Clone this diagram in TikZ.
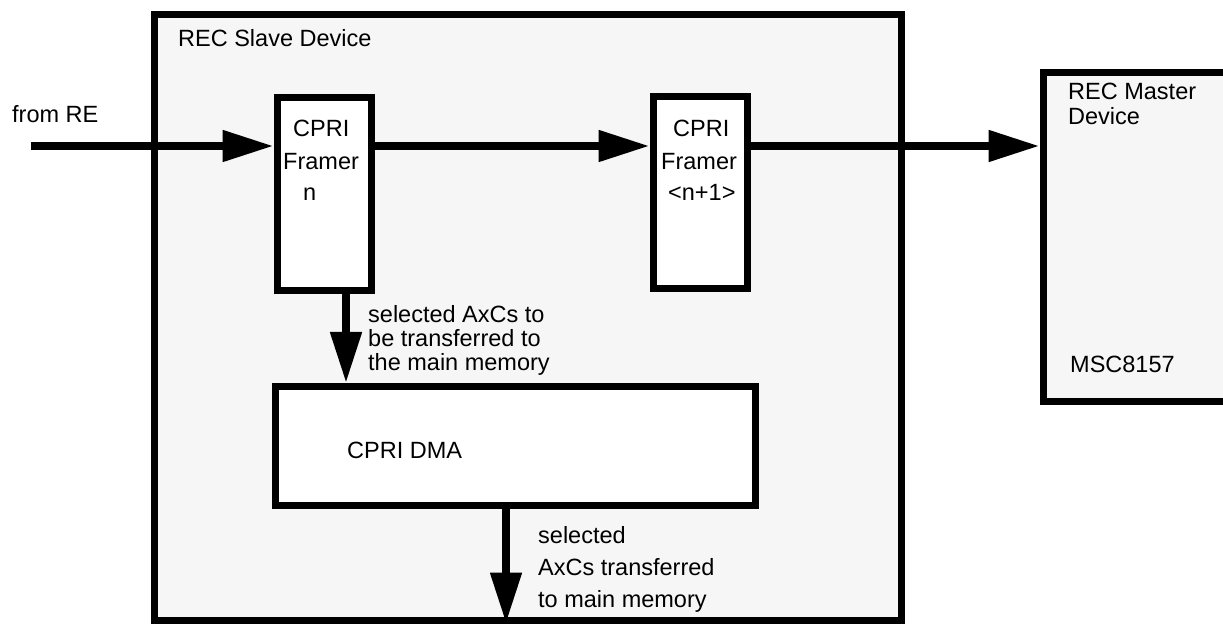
\documentclass[tikz,border=0pt]{standalone}
\usepackage{fontspec}
\setmainfont{Liberation Sans}
\usetikzlibrary{arrows.meta}
\definecolor{panel}{RGB}{246,246,246}
\begin{document}
\begin{tikzpicture}[x=1bp,y=-1bp,
  blockbox/.style={draw=black, line width=7bp, inner sep=0pt},
  txt/.style={anchor=base west, inner sep=0pt, font=\fontsize{23.5bp}{28bp}\selectfont},
  flow/.style={line width=8bp, -{Triangle[length=51bp,width=30bp]}}]
\useasboundingbox (0,0) rectangle (1223,625);
\clip (0,0) rectangle (1223,625);

% boxes
\node[blockbox, fill=panel, minimum width=746bp, minimum height=605bp] (slave) at (528,317.5) {};
\node[blockbox, fill=panel, minimum width=220bp, minimum height=328bp] (master) at (1153,237) {};
\node[blockbox, fill=white, minimum width=94bp, minimum height=192bp] (framerA) at (324,194) {};
\node[blockbox, fill=white, minimum width=94bp, minimum height=191bp] (framerB) at (700,192.5) {};
\node[blockbox, fill=white, minimum width=480bp, minimum height=119bp] (dma) at (515.5,446) {};

% helper coordinates
\coordinate (in) at (31,146);
\coordinate (d1) at (346,0);
\coordinate (d2) at (506,0);

% connectors
\draw[flow] (in) -- (in -| framerA.west);
\draw[flow] (framerA.east |- in) -- (framerB.west |- in);
\draw[flow] (framerB.east |- in) -- (master.west |- in);
\draw[flow] (d1 |- framerA.south) -- (d1 |- dma.north);
\draw[flow] (d2 |- dma.south) -- (d2 |- slave.south);

% texts
\node[txt] (tslave) at (178,47) {REC Slave Device};
\node[txt] (tfrom) at (12,123) {from RE};
\node[txt] (ta1) at (293,137) {CPRI};
\node[txt] (ta2) at (283,170) {Framer};
\node[txt] (ta3) at (303,201) {n};
\node[txt] (tb1) at (673,137) {CPRI};
\node[txt] (tb2) at (661,170) {Framer};
\node[txt] (tb3) at (668,201) {<n+1>};
\node[txt] (s1) at (368,323) {selected AxCs to};
\node[txt] (s2) at (368,347) {be transferred to};
\node[txt] (s3) at (368,370) {the main memory};
\node[txt] (tdma) at (347,458) {CPRI DMA};
\node[txt] (u1) at (538,543) {selected};
\node[txt] (u2) at (538,575) {AxCs transferred};
\node[txt] (u3) at (538,607) {to main memory};
\node[txt] (m1) at (1068,100) {REC Master};
\node[txt] (m2) at (1068,125) {Device};
\node[txt] (m3) at (1070,372) {MSC8157};
\end{tikzpicture}
\end{document}
